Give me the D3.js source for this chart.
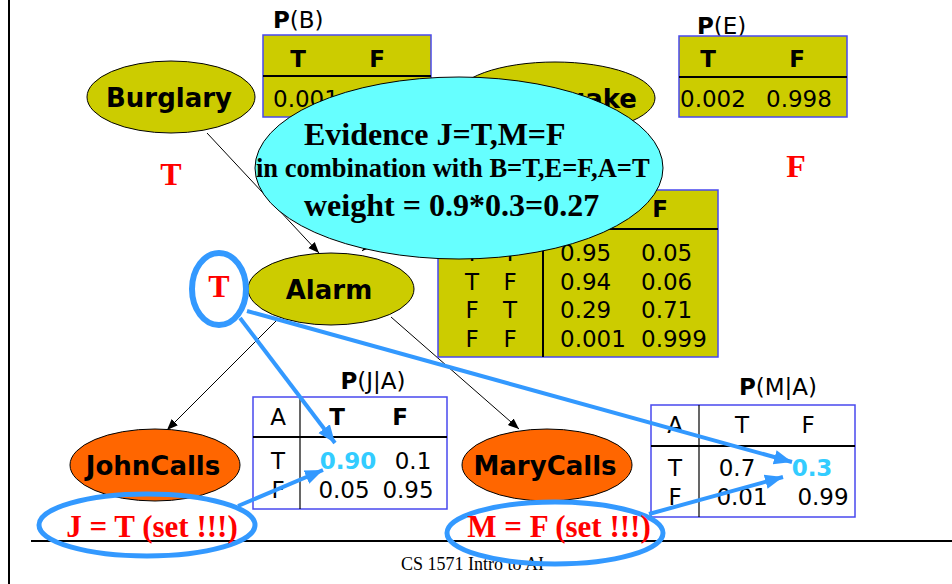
<!DOCTYPE html>
<html>
<head>
<meta charset="utf-8">
<script src="https://cdn.jsdelivr.net/npm/d3@7"></script>
<style>
body { margin: 0; background: #fff; }
svg { display: block; }
.node { font-family: "DejaVu Sans", sans-serif; font-weight: bold; font-size: 26px; }
.tab { font-family: "DejaVu Sans", sans-serif; font-size: 23px; }
.serif { font-family: "Liberation Serif", "Times New Roman", serif; font-weight: bold; }
</style>
</head>
<body>
<div id="chart"></div>
<script>
// network
var nodes = ["Burglary", "Earthquake", "Alarm", "JohnCalls", "MaryCalls"];
var edges = [["Burglary", "Alarm"], ["Earthquake", "Alarm"], ["Alarm", "JohnCalls"], ["Alarm", "MaryCalls"]];
var tf = ["T", "F"];

// CPTs
var pB = ["0.001", "0.999"];
var pE = ["0.002", "0.998"];
var pAParents = [["T", "T"], ["T", "F"], ["F", "T"], ["F", "F"]];
var pA = [["0.95", "0.05"], ["0.94", "0.06"], ["0.29", "0.71"], ["0.001", "0.999"]];
var pJ = [["0.90", "0.1"], ["0.05", "0.95"]];
var pM = [["0.7", "0.3"], ["0.01", "0.99"]];

// evidence callout
var evidence = ["Evidence J=T,M=F", "in combination with B=T,E=F,A=T", "weight = 0.9*0.3=0.27"];
var setLabels = ["J = T (set !!!)", "M = F (set !!!)"];
var sampled = { Burglary: "T", Earthquake: "F", Alarm: "T" };
var footer = "CS 1571 Intro to AI";

// ---- layout (positions only) ----
var w = 952, h = 584;
var pos = {
  Burglary:   { cx: 171, cy: 97,  rx: 84,  ry: 36, fill: "#cccc00" },
  Earthquake: { cx: 555, cy: 98,  rx: 100, ry: 36, fill: "#cccc00" },
  Alarm:      { cx: 331, cy: 289, rx: 83,  ry: 36, fill: "#cccc00" },
  JohnCalls:  { cx: 155, cy: 465, rx: 85,  ry: 36, fill: "#ff6600" },
  MaryCalls:  { cx: 547, cy: 465, rx: 85,  ry: 36, fill: "#ff6600" }
};
var edgePts = [[[207, 133], [319, 253]], [[495, 132], [362, 251]], [[277, 320], [167, 430]], [[391, 317], [519, 429]]];
var sampledPos = { Burglary: [171, 185], Earthquake: [796, 177], Alarm: [219, 297] };

var blue = "#3399ff", cyanText = "#33ccff", red = "#ff0000";

var svg = d3.select("#chart").append("svg")
  .attr("width", w)
  .attr("height", h);

var defs = svg.append("defs");
function marker(id, color, size) {
  defs.append("marker")
    .attr("id", id)
    .attr("viewBox", "0 0 10 10")
    .attr("refX", 10).attr("refY", 5)
    .attr("markerUnits", "userSpaceOnUse")
    .attr("markerWidth", size).attr("markerHeight", size)
    .attr("orient", "auto")
    .append("path")
    .attr("d", "M0,1 L10,5 L0,9 Z")
    .attr("fill", color);
}
marker("arrBlack", "#000", 11);
marker("arrBlue", blue, 18);

// frame
svg.append("line").attr("x1", 9).attr("y1", 0).attr("x2", 9).attr("y2", h)
  .attr("stroke", "#000").attr("stroke-width", 2);
svg.append("line").attr("x1", 31).attr("y1", 541).attr("x2", w).attr("y2", 541)
  .attr("stroke", "#000").attr("stroke-width", 2);
svg.append("text").attr("x", 401).attr("y", 570)
  .style("font-family", "'Liberation Serif', serif").style("font-size", "18px")
  .text(footer);

// edges
svg.selectAll(".edge").data(edges).enter().append("line")
  .attr("class", "edge")
  .attr("x1", function(d, i) { return edgePts[i][0][0]; })
  .attr("y1", function(d, i) { return edgePts[i][0][1]; })
  .attr("x2", function(d, i) { return edgePts[i][1][0]; })
  .attr("y2", function(d, i) { return edgePts[i][1][1]; })
  .attr("stroke", "#000").attr("stroke-width", 1)
  .attr("marker-end", "url(#arrBlack)");

// nodes
var ng = svg.selectAll(".nd").data(nodes).enter().append("g").attr("class", "nd");
ng.append("ellipse")
  .attr("cx", function(d) { return pos[d].cx; })
  .attr("cy", function(d) { return pos[d].cy; })
  .attr("rx", function(d) { return pos[d].rx; })
  .attr("ry", function(d) { return pos[d].ry; })
  .attr("fill", function(d) { return pos[d].fill; })
  .attr("stroke", "#000").attr("stroke-width", 1);
ng.append("text").attr("class", "node")
  .attr("x", function(d) { return pos[d].cx - 2; })
  .attr("y", function(d) { return pos[d].cy + 10; })
  .attr("text-anchor", "middle")
  .text(function(d) { return d; });

// tables
function table(t) {
  var g = svg.append("g");
  if (t.title) {
    var tt = g.append("text").attr("class", "tab")
      .attr("x", t.title[1]).attr("y", t.title[2])
      .attr("text-anchor", t.title[3] || "start");
    tt.append("tspan").style("font-weight", "bold").text("P");
    tt.append("tspan").text(t.title[0]);
  }
  g.append("rect").attr("x", t.x0).attr("y", t.y0)
    .attr("width", t.x1 - t.x0).attr("height", t.y1 - t.y0)
    .attr("fill", t.fill).attr("stroke", "#4848ee").attr("stroke-width", 1.5);
  g.append("line").attr("x1", t.x0).attr("x2", t.x1).attr("y1", t.hy).attr("y2", t.hy)
    .attr("stroke", "#000").attr("stroke-width", 2);
  if (t.vx) {
    g.append("line").attr("x1", t.vx).attr("x2", t.vx).attr("y1", t.y0).attr("y2", t.y1)
      .attr("stroke", "#000").attr("stroke-width", t.vw || 1.2);
  }
  g.selectAll(".c").data(t.cells).enter().append("text")
    .attr("class", "tab")
    .attr("x", function(d) { return d.x; })
    .attr("y", function(d) { return d.y; })
    .attr("text-anchor", function(d) { return d.anchor || "middle"; })
    .style("font-weight", function(d) { return d.bold ? "bold" : "normal"; })
    .attr("fill", function(d) { return d.color || "#000"; })
    .text(function(d) { return d.text; });
}

// P(B)
var cellsB = tf.map(function(v, i) { return { text: v, x: [298, 377][i], y: 67, bold: true }; })
  .concat(pB.map(function(v, i) { return { text: v, x: [273, 354][i], y: 107, anchor: "start" }; }));
table({ title: ["(B)", 273, 28], x0: 263, x1: 431, y0: 35, y1: 117, hy: 76, fill: "#cccc00", cells: cellsB });

// P(E)
var cellsE = tf.map(function(v, i) { return { text: v, x: [708, 797][i], y: 67, bold: true }; })
  .concat(pE.map(function(v, i) { return { text: v, x: [680, 766][i], y: 107, anchor: "start" }; }));
table({ title: ["(E)", 697, 34], x0: 679, x1: 847, y0: 36, y1: 117, hy: 77, fill: "#cccc00", cells: cellsE });

// P(A|B,E) -- header row is hidden behind the callout, only "F" shows
var rowYA = [261, 290, 318, 347];
var cellsA = [{ text: tf[1], x: 660, y: 217, bold: true }];
pAParents.forEach(function(r, j) {
  r.forEach(function(v, i) { cellsA.push({ text: v, x: [472, 510][i], y: rowYA[j] }); });
});
pA.forEach(function(r, j) {
  r.forEach(function(v, i) { cellsA.push({ text: v, x: [560, 641][i], y: rowYA[j], anchor: "start" }); });
});
table({ x0: 438, x1: 718, y0: 190, y1: 357, hy: 229, vx: 543, vw: 2, fill: "#cccc00", cells: cellsA });

// P(J|A)
var cellsJ = [{ text: "A", x: 278, y: 425 }]
  .concat(tf.map(function(v, i) { return { text: v, x: [337, 400][i], y: 425, bold: true }; }));
pJ.forEach(function(r, j) {
  cellsJ.push({ text: tf[j], x: 278, y: [469, 498][j] });
  r.forEach(function(v, i) {
    var hit = (j === 0 && i === 0);
    cellsJ.push({ text: v, x: [[348, 413], [344, 408]][j][i], y: [469, 498][j], bold: hit, color: hit ? cyanText : null });
  });
});
table({ title: ["(J|A)", 373, 389, "middle"], x0: 253, x1: 447, y0: 397, y1: 509, hy: 437, vx: 300, fill: "#fff", cells: cellsJ });

// P(M|A)
var cellsM = [{ text: "A", x: 675, y: 433 }]
  .concat(tf.map(function(v, i) { return { text: v, x: [742, 808][i], y: 433 }; }));
pM.forEach(function(r, j) {
  cellsM.push({ text: tf[j], x: 675, y: [476, 505][j] });
  r.forEach(function(v, i) {
    var hit = (j === 0 && i === 1);
    cellsM.push({ text: v, x: [[737, 812], [742, 823]][j][i], y: [476, 505][j], bold: hit, color: hit ? cyanText : null });
  });
});
table({ title: ["(M|A)", 778, 395, "middle"], x0: 651, x1: 855, y0: 405, y1: 517, hy: 446, vx: 699, fill: "#fff", cells: cellsM });

// sampled values
svg.selectAll(".smp").data(Object.keys(sampled)).enter().append("text")
  .attr("class", "serif")
  .attr("x", function(d) { return sampledPos[d][0]; })
  .attr("y", function(d) { return sampledPos[d][1]; })
  .attr("text-anchor", "middle")
  .attr("fill", red)
  .style("font-size", "32px")
  .text(function(d) { return sampled[d]; });

// evidence callout
svg.append("ellipse").attr("cx", 459).attr("cy", 168).attr("rx", 204).attr("ry", 91)
  .attr("fill", "#66ffff").attr("stroke", "#000").attr("stroke-width", 1);
var evX = [304, 256, 304], evY = [145, 177, 216], evS = [32, 26.5, 32];
svg.selectAll(".ev").data(evidence).enter().append("text")
  .attr("class", "serif")
  .attr("x", function(d, i) { return evX[i]; })
  .attr("y", function(d, i) { return evY[i]; })
  .style("font-size", function(d, i) { return evS[i] + "px"; })
  .text(function(d) { return d; });

// blue annotations
svg.append("ellipse").attr("cx", 219).attr("cy", 289).attr("rx", 27).attr("ry", 36)
  .attr("fill", "none").attr("stroke", blue).attr("stroke-width", 6);

var blueArrows = [[[240, 318], [335, 443]], [[247, 311], [792, 462]], [[238, 506], [323, 470]], [[649, 514], [783, 477]]];
svg.selectAll(".ba").data(blueArrows).enter().append("line")
  .attr("x1", function(d) { return d[0][0]; })
  .attr("y1", function(d) { return d[0][1]; })
  .attr("x2", function(d) { return d[1][0]; })
  .attr("y2", function(d) { return d[1][1]; })
  .attr("stroke", blue).attr("stroke-width", 4)
  .attr("marker-end", "url(#arrBlue)");

var setPos = [{ x: 152, y: 537, cx: 147, cy: 525 }, { x: 559, y: 537, cx: 555, cy: 533 }];
svg.selectAll(".setE").data(setLabels).enter().append("ellipse")
  .attr("cx", function(d, i) { return setPos[i].cx; })
  .attr("cy", function(d, i) { return setPos[i].cy; })
  .attr("rx", 108).attr("ry", 31)
  .attr("fill", "none").attr("stroke", blue).attr("stroke-width", 5);
svg.selectAll(".setT").data(setLabels).enter().append("text")
  .attr("class", "serif")
  .attr("x", function(d, i) { return setPos[i].x; })
  .attr("y", function(d, i) { return setPos[i].y; })
  .attr("text-anchor", "middle")
  .attr("fill", red)
  .style("font-size", "31px")
  .text(function(d) { return d; });
</script>
</body>
</html>
